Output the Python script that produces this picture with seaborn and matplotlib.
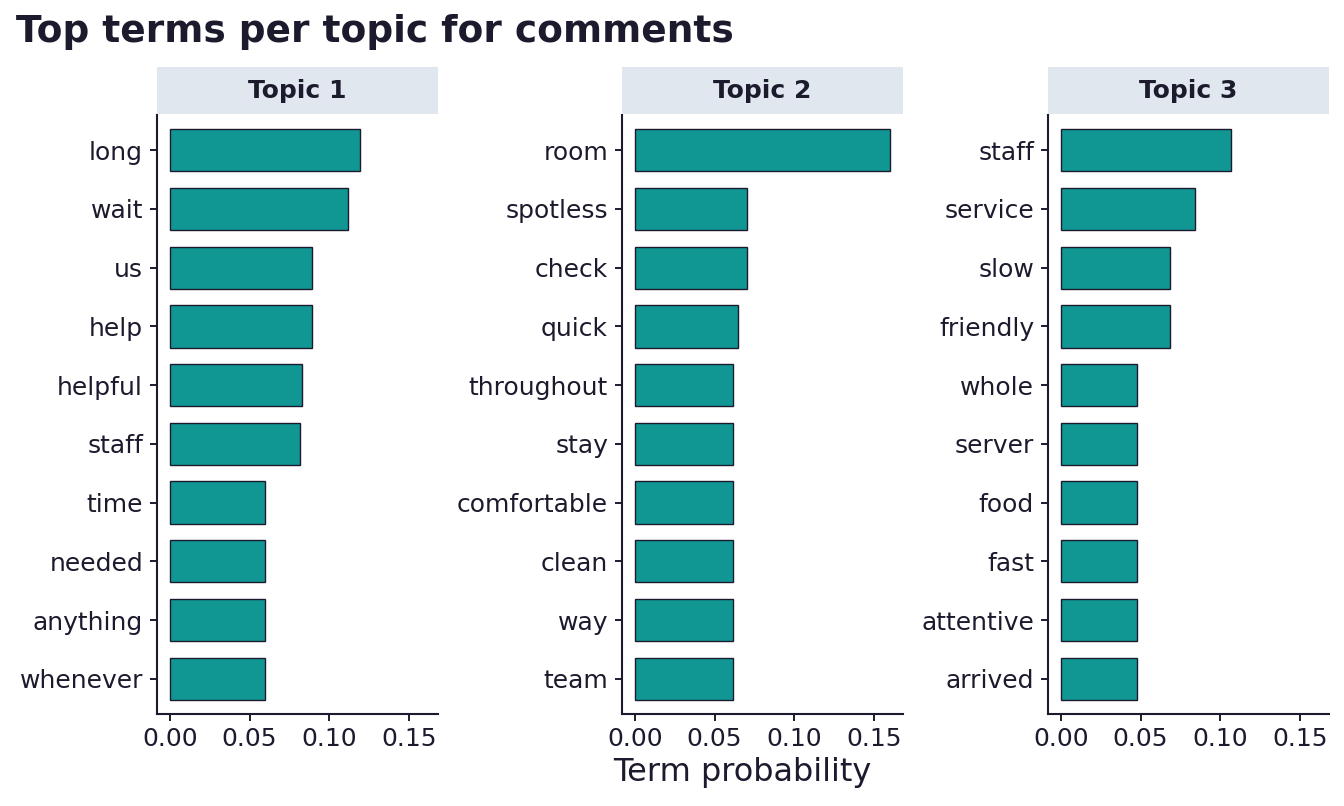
import matplotlib
matplotlib.use("Agg")
import matplotlib.pyplot as plt
import seaborn as sns
import pandas as pd

topic1_terms = ["long", "wait", "us", "help", "helpful", "staff", "time", "needed", "anything", "whenever"]
topic1_vals = [0.119, 0.1117, 0.0893, 0.0893, 0.083, 0.0816, 0.0596, 0.0596, 0.0596, 0.0596]
topic2_terms = ["room", "spotless", "check", "quick", "throughout", "stay", "comfortable", "clean", "way", "team"]
topic2_vals = [0.160, 0.0703, 0.0703, 0.0646, 0.0615, 0.0615, 0.0615, 0.0615, 0.0615, 0.0615]
topic3_terms = ["staff", "service", "slow", "friendly", "whole", "server", "food", "fast", "attentive", "arrived"]
topic3_vals = [0.1069, 0.0843, 0.0686, 0.0682, 0.0475, 0.0475, 0.0475, 0.0475, 0.0475, 0.0475]
topic_names = ["Topic 1", "Topic 2", "Topic 3"]
x_ticks = [0.00, 0.05, 0.10, 0.15]
x_ticklabels = ["0.00", "0.05", "0.10", "0.15"]

sns.set_theme(style="white")
plt.rcParams['font.family'] = ['DejaVu Sans']

TXT = "#1c1b2e"
BAR = "#119793"
STRIP = "#e1e7ef"

W, H = 1344, 806
fig = plt.figure(figsize=(W / 100, H / 100), dpi=100)
fig.patch.set_facecolor("white")

lefts = [157, 622, 1048]
pw = 281
ytop, ybot = 115, 714
strip_top = 67

data = [(topic1_terms, topic1_vals), (topic2_terms, topic2_vals), (topic3_terms, topic3_vals)]
vmax = max(max(topic1_vals), max(topic2_vals), max(topic3_vals))
pad = vmax * 0.05

for i, (terms, vals) in enumerate(data):
    l = lefts[i]
    ax = fig.add_axes([l / W, 1 - ybot / H, pw / W, (ybot - ytop) / H])
    df = pd.DataFrame({"term": terms, "prob": vals})
    sns.barplot(data=df, x="prob", y="term", ax=ax, color=BAR, saturation=1,
                width=0.72, edgecolor=TXT, linewidth=1.0, orient="h")
    ax.set_xlim(-pad, vmax + pad)
    ax.set_ylim(len(terms) - 1 + 0.6, -0.6)
    ax.set_xticks(x_ticks)
    ax.set_xticklabels(x_ticklabels)
    ax.set_xlabel("")
    ax.set_ylabel("")
    for s in ["top", "right"]:
        ax.spines[s].set_visible(False)
    for s in ["left", "bottom"]:
        ax.spines[s].set_color(TXT)
        ax.spines[s].set_linewidth(1.5)
    ax.tick_params(axis="both", which="both", direction="out", length=5, width=1.4,
                   color=TXT, labelcolor=TXT, labelsize=18, pad=4,
                   left=True, bottom=True)
    ax.tick_params(axis="y", pad=5)
    ax.set_facecolor("white")
    sax = fig.add_axes([l / W, 1 - (ytop - 1) / H, pw / W, (ytop - 1 - strip_top) / H])
    sax.set_facecolor(STRIP)
    sax.set_xticks([]); sax.set_yticks([])
    for s in sax.spines.values():
        s.set_visible(False)
    sax.text(0.5, 0.48, topic_names[i], transform=sax.transAxes, ha="center", va="center",
             fontsize=18, fontweight="bold", color=TXT)

fig.text(742 / W, 1 - 772 / H, "Term probability", ha="center", va="center", fontsize=23, color=TXT)
fig.text(16 / W, 1 - 32 / H, "Top terms per topic for comments", ha="left", va="center",
         fontsize=27, fontweight="bold", color=TXT)

fig.savefig("out.png", dpi=100)
